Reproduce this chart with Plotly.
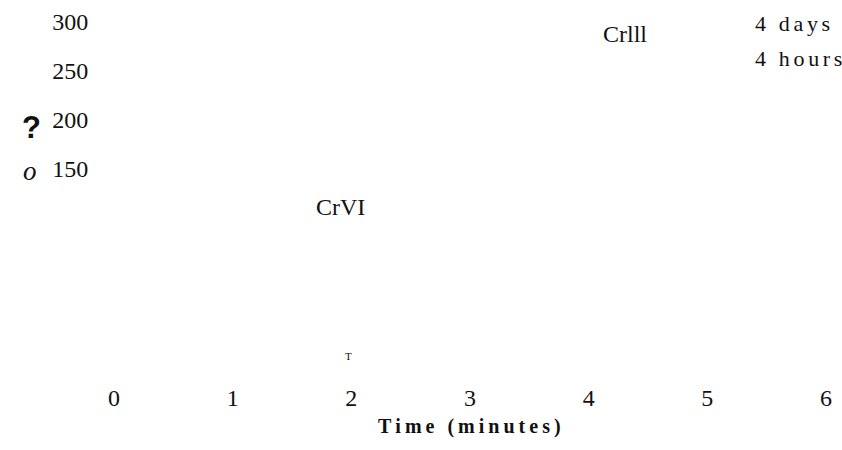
import plotly.graph_objects as go

# Axis ticks
x_ticks = [0, 1, 2, 3, 4, 5, 6]
y_ticks = [150, 200, 250, 300]

# Text labels placed in data coordinates
label_text = ["Crlll", "CrVI", "4 days", "4 hours", "T"]
label_x = [4.303, 1.907, 5.381, 5.381, 1.979]
label_y = [287.3, 111.3, 297.5, 261.9, -40.3]

SERIF = "Liberation Serif"
INK = "#111"


def spaced(s, sep):
    return sep.join(list(s))


fig = go.Figure()
# empty trace so the axes render
fig.add_trace(go.Scatter(x=x_ticks, y=[None] * len(x_ticks), mode="lines",
                         showlegend=False, hoverinfo="skip"))

for t, x, y in zip(label_text, label_x, label_y):
    if t in ("4 days", "4 hours"):
        fig.add_annotation(x=x, y=y, text=spaced(t, "\u2006"), showarrow=False,
                           xanchor="left", font=dict(family=SERIF, size=22, color=INK))
    elif t == "T":
        fig.add_annotation(x=x, y=y, text=t, showarrow=False,
                           font=dict(family=SERIF, size=11, color=INK))
    else:
        fig.add_annotation(x=x, y=y, text=t, showarrow=False,
                           font=dict(family=SERIF, size=24, color=INK))

# fragments of the y-axis title
fig.add_annotation(xref="paper", yref="paper", x=-0.132, y=0.719, text="<b>?</b>",
                   showarrow=False, font=dict(family="Liberation Sans", size=31, color=INK))
fig.add_annotation(xref="paper", yref="paper", x=-0.130, y=0.544, text="<i>o</i>",
                   showarrow=False, font=dict(family=SERIF, size=27, color=INK))

# x-axis title
fig.add_annotation(xref="paper", yref="paper", x=0.499, y=-0.192,
                   text="<b>" + spaced("Time (minutes)", "\u2009") + "</b>",
                   showarrow=False, font=dict(family=SERIF, size=20, color=INK))

fig.update_xaxes(range=[0, 6], tickvals=x_ticks, ticktext=[str(v) for v in x_ticks],
                 showgrid=False, zeroline=False, showline=False,
                 ticks="outside", ticklen=6, tickcolor="rgba(0,0,0,0)",
                 tickfont=dict(family=SERIF, size=24, color=INK))
fig.update_yaxes(range=[-54.5, 316.8], tickvals=y_ticks, ticktext=[str(v) for v in y_ticks],
                 showgrid=False, zeroline=False, showline=False,
                 ticks="outside", ticklen=20, tickcolor="rgba(0,0,0,0)",
                 tickfont=dict(family=SERIF, size=24, color=INK))

fig.update_layout(width=842, height=450, margin=dict(l=114, r=15.5, t=5, b=80),
                  paper_bgcolor="white", plot_bgcolor="white", showlegend=False)

fig.write_html("out.html")
